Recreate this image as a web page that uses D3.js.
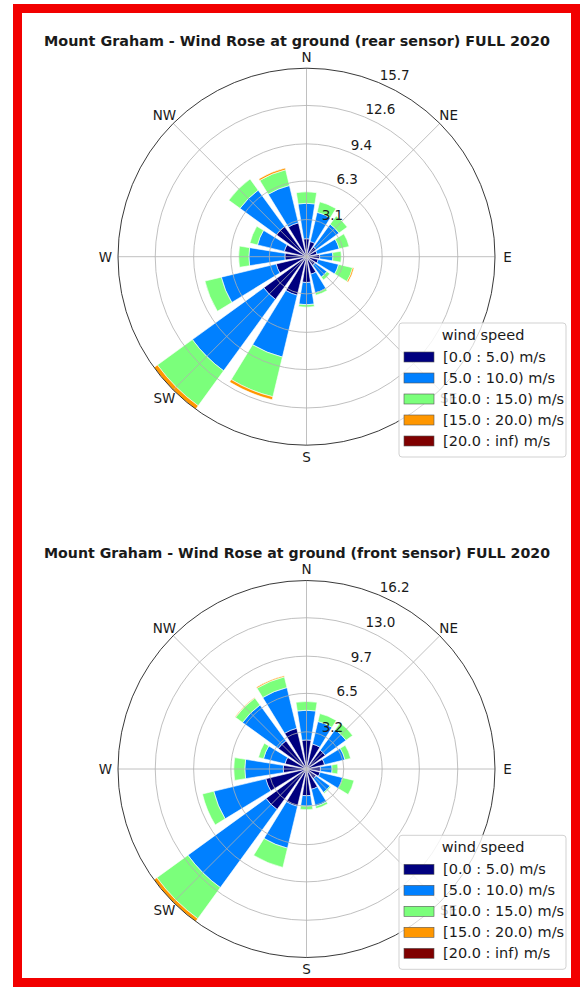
<!DOCTYPE html>
<html>
<head>
<meta charset="utf-8">
<script src="https://cdn.jsdelivr.net/npm/d3@7"></script>
<style>
    body { margin: 0; background: #fff; }
    svg text { font-family: "DejaVu Sans", sans-serif; fill: #1a1a1a; }
</style>
</head>
<body>
<svg id="fig" width="586" height="989"></svg>
<script>
// 16 sectors, clockwise from North
const directions = ["N", "NNE", "NE", "ENE", "E", "ESE", "SE", "SSE", "S", "SSW", "SW", "WSW", "W", "WNW", "NW", "NNW"];
const compassLabels = ["N", "NE", "E", "SE", "S", "SW", "W", "NW"];
const speedBins = ["[0.0 : 5.0) m/s", "[5.0 : 10.0) m/s", "[10.0 : 15.0) m/s", "[15.0 : 20.0) m/s", "[20.0 : inf) m/s"];

// rear sensor, frequency (%) per direction for each speed bin
const rear0to5   = [1.5, 1.3, 1.0, 0.9, 1.1, 1.0, 0.9, 1.5, 2.15, 3.3, 4.4, 2.6, 1.8, 1.9, 3.1, 2.9];
const rear5to10  = [2.95, 2.5, 2.35, 1.9, 1.1, 1.75, 1.2, 1.6, 1.85, 5.3, 7.35, 4.7, 3.0, 2.3, 3.75, 3.2];
const rear10to15 = [0.95, 0.9, 0.85, 0.85, 0.7, 1.2, 0.3, 0.2, 0.2, 3.4, 3.6, 1.4, 0.85, 0.65, 1.15, 1.35];
const rear15to20 = [0, 0, 0, 0, 0, 0.12, 0, 0, 0, 0.25, 0.35, 0, 0, 0, 0, 0.15];
const rear20up   = [0, 0, 0, 0, 0, 0, 0, 0, 0, 0, 0, 0, 0, 0, 0, 0];
const rearTicks  = [3.1, 6.3, 9.4, 12.6, 15.7];

// front sensor
const front0to5   = [2.5, 2.2, 2.0, 1.6, 1.2, 1.2, 1.0, 1.8, 2.3, 3.3, 4.3, 3.6, 2.0, 1.9, 3.0, 3.6];
const front5to10  = [2.55, 2.0, 2.2, 1.8, 1.0, 2.0, 1.5, 1.5, 0.9, 3.7, 8.3, 4.6, 3.3, 1.9, 3.8, 3.6];
const front10to15 = [0.75, 0.7, 0.7, 0.5, 0.5, 1.0, 0.1, 0.2, 0.3, 1.7, 3.3, 1.0, 0.95, 0.45, 0.75, 0.95];
const front15to20 = [0, 0, 0, 0, 0, 0, 0, 0, 0, 0, 0.3, 0, 0, 0, 0.05, 0.1];
const front20up   = [0, 0, 0, 0, 0, 0, 0, 0, 0, 0, 0, 0, 0, 0, 0, 0];
const frontTicks  = [3.2, 6.5, 9.7, 13.0, 16.2];

// matplotlib jet sampled at 0, .25, .5, .75, 1
const jet = ["#00007f", "#0080ff", "#7bff7b", "#ff9700", "#7f0000"];

class WindRose {

    constructor(svg, cx, cy) {
        this.svg = svg;
        this.cx = cx;
        this.cy = cy;
        this.radius = 188.5;
        this.opening = 0.8;
    }

    initialize(title) {
        this.svg = d3.select(this.svg);
        this.root = this.svg.append("g");
        this.container = this.root.append("g")
            .attr("transform", `translate(${this.cx}, ${this.cy})`);
        this.bars = this.container.append("g");
        this.grid = this.container.append("g");
        this.labels = this.container.append("g");
        this.legend = this.root.append("g");

        this.root.append("text")
            .attr("x", this.cx - 9.5)
            .attr("y", this.cy - 210.7)
            .attr("text-anchor", "middle")
            .attr("textLength", 506)
            .attr("lengthAdjust", "spacingAndGlyphs")
            .style("font-size", "14.5px")
            .style("font-weight", "bold")
            .text(title);

        this.rScale = d3.scaleLinear().range([0, this.radius]);
        this.aScale = d3.scaleBand().domain(directions).range([0, 2 * Math.PI]);
    }

    update(bins, ticks) {
        const keys = speedBins;
        const table = directions.map((d, i) => {
            const row = {dir: d};
            keys.forEach((k, j) => row[k] = bins[j][i]);
            return row;
        });
        const series = d3.stack().keys(keys)(table);

        this.rScale.domain([0, ticks[ticks.length - 1]]);
        const step = this.aScale.bandwidth();
        const half = step * this.opening / 2;

        const arc = d3.arc()
            .innerRadius(d => this.rScale(d[0]))
            .outerRadius(d => this.rScale(d[1]))
            .startAngle(d => this.aScale(d.data.dir) - half)
            .endAngle(d => this.aScale(d.data.dir) + half);

        this.bars.selectAll("g")
            .data(series)
            .join("g")
            .attr("fill", (d, i) => jet[i])
            .selectAll("path")
            .data(d => d.filter(p => p[1] - p[0] > 0))
            .join("path")
            .attr("d", arc)
            .attr("stroke", "#fff")
            .attr("stroke-width", 0.6);

        // rings and spokes drawn over the bars, like matplotlib's default
        this.grid.selectAll("circle.ring")
            .data(ticks.slice(0, -1))
            .join("circle")
            .attr("class", "ring")
            .attr("r", d => this.rScale(d))
            .attr("fill", "none")
            .attr("stroke", "#b0b0b0")
            .attr("stroke-width", 0.8);

        this.grid.selectAll("line")
            .data(compassLabels)
            .join("line")
            .attr("x1", 0).attr("y1", 0)
            .attr("x2", (d, i) => this.radius * Math.sin(i * Math.PI / 4))
            .attr("y2", (d, i) => -this.radius * Math.cos(i * Math.PI / 4))
            .attr("stroke", "#b0b0b0")
            .attr("stroke-width", 0.8);

        this.grid.append("circle")
            .attr("r", this.radius)
            .attr("fill", "none")
            .attr("stroke", "#222")
            .attr("stroke-width", 0.9);

        this.labels.selectAll("text.compass")
            .data(compassLabels)
            .join("text")
            .attr("class", "compass")
            .attr("x", (d, i) => 201 * Math.sin(i * Math.PI / 4))
            .attr("y", (d, i) => -200 * Math.cos(i * Math.PI / 4))
            .attr("text-anchor", "middle")
            .attr("dominant-baseline", "central")
            .style("font-size", "13.5px")
            .text(d => d);

        const a = Math.PI / 8;
        this.labels.selectAll("text.rlabel")
            .data(ticks)
            .join("text")
            .attr("class", "rlabel")
            .attr("x", d => this.rScale(d) * Math.sin(a) + 1)
            .attr("y", d => -this.rScale(d) * Math.cos(a) - 7.7)
            .attr("dominant-baseline", "central")
            .style("font-size", "13.5px")
            .text(d => d3.format(".1f")(d));

        // legend
        const lx = this.cx + 92.5, ly = this.cy + 66.3;
        this.legend.attr("transform", `translate(${lx}, ${ly})`);
        this.legend.append("rect")
            .attr("width", 167).attr("height", 134)
            .attr("rx", 3)
            .attr("fill", "#fff").attr("fill-opacity", 0.8)
            .attr("stroke", "#cccccc").attr("stroke-width", 0.9);
        this.legend.append("text")
            .attr("x", 84).attr("y", 12)
            .attr("text-anchor", "middle")
            .attr("dominant-baseline", "central")
            .style("font-size", "14.5px")
            .text("wind speed");
        const rows = this.legend.selectAll("g.row")
            .data(keys)
            .join("g")
            .attr("class", "row")
            .attr("transform", (d, i) => `translate(5, ${34 + i * 21})`);
        rows.append("rect")
            .attr("y", -5).attr("width", 30).attr("height", 10)
            .attr("fill", (d, i) => jet[i])
            .attr("stroke", "#555").attr("stroke-width", 0.6);
        rows.append("text")
            .attr("x", 39)
            .attr("dominant-baseline", "central")
            .style("font-size", "14.5px")
            .text(d => d);
    }
}

const fig = d3.select("#fig");
fig.append("rect")
    .attr("x", 17.5).attr("y", 8.5)
    .attr("width", 558).attr("height", 974)
    .attr("fill", "#fff")
    .attr("stroke", "#f20000")
    .attr("stroke-width", 9);

const rear = new WindRose("#fig", 306.5, 256.7);
rear.initialize("Mount Graham - Wind Rose at ground (rear sensor) FULL 2020");
rear.update([rear0to5, rear5to10, rear10to15, rear15to20, rear20up], rearTicks);

const front = new WindRose("#fig", 306.5, 769);
front.initialize("Mount Graham - Wind Rose at ground (front sensor) FULL 2020");
front.update([front0to5, front5to10, front10to15, front15to20, front20up], frontTicks);
</script>
</body>
</html>
